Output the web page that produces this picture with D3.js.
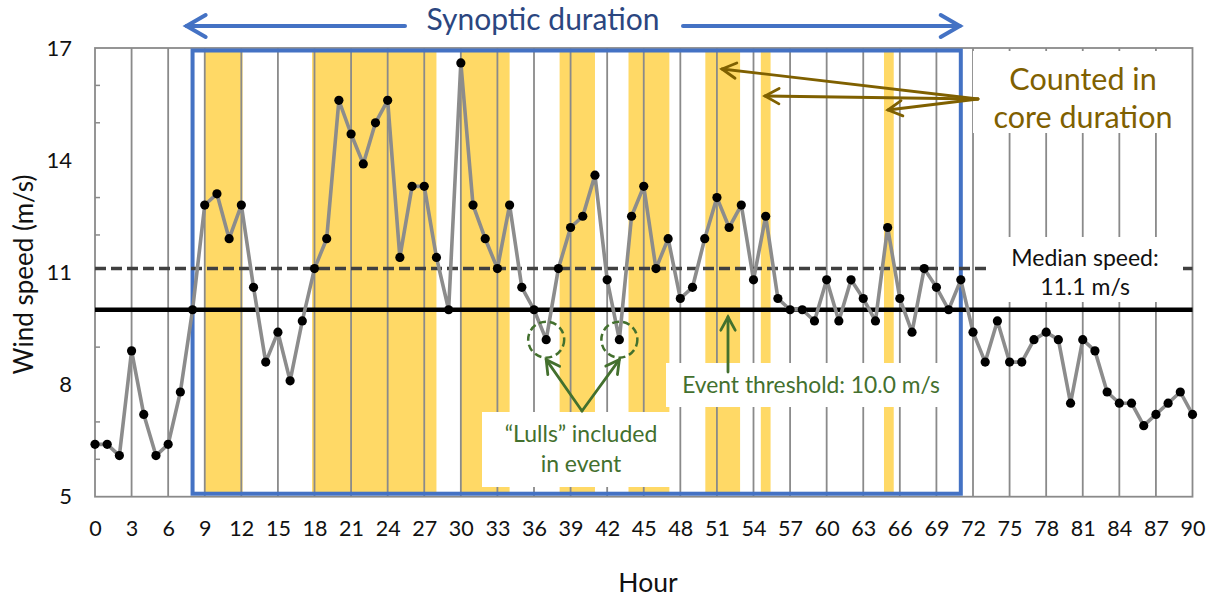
<!DOCTYPE html>
<html><head><meta charset="utf-8">
<script src="https://cdn.jsdelivr.net/npm/d3@7"></script>
<style>
body{margin:0;background:#fff}
svg{display:block}
text{font-family:Lato,"Open Sans",sans-serif}
</style>
</head><body>
<svg id="c" width="1216" height="598"></svg>
<script>
// ---------- data ----------
const speeds = [
  6.4, 6.4, 6.1, 8.9, 7.2, 6.1, 6.4, 7.8, 10.0, 12.8,
  13.1, 11.9, 12.8, 10.6, 8.6, 9.4, 8.1, 9.7, 11.1, 11.9,
  15.6, 14.7, 13.9, 15.0, 15.6, 11.4, 13.3, 13.3, 11.4, 10.0,
  16.6, 12.8, 11.9, 11.1, 12.8, 10.6, 10.0, 9.2, 11.1, 12.2,
  12.5, 13.6, 10.8, 9.2, 12.5, 13.3, 11.1, 11.9, 10.3, 10.6,
  11.9, 13.0, 12.2, 12.8, 10.8, 12.5, 10.3, 10.0, 10.0, 9.7,
  10.8, 9.7, 10.8, 10.3, 9.7, 12.2, 10.3, 9.4, 11.1, 10.6,
  10.0, 10.8, 9.4, 8.6, 9.7, 8.6, 8.6, 9.2, 9.4, 9.2,
  7.5, 9.2, 8.9, 7.8, 7.5, 7.5, 6.9, 7.2, 7.5, 7.8,
  7.2
];
const coreBandStart = [8.95, 17.8, 30.0, 38.1, 43.75, 50.05, 54.6, 64.7];
const coreBandEnd   = [12.1, 28.0, 34.0, 41.0, 47.1, 52.9, 55.4, 65.5];
const synopticStart = 8, synopticEnd = 71;
const eventThreshold = 10.0;
const medianSpeed = 11.1;
const lullHours = [37, 43];
const xTickValues = [0,3,6,9,12,15,18,21,24,27,30,33,36,39,42,45,48,51,54,57,60,63,66,69,72,75,78,81,84,87,90];
const yTickValues = [5, 8, 11, 14, 17];
const yMinorTicks = [6, 7, 9, 10, 12, 13, 15, 16];

// ---------- setup ----------
const svg = d3.select("#c");
const x = d3.scaleLinear().domain([0, 90]).range([95, 1192.5]);
const y = d3.scaleLinear().domain([5, 17]).range([496.7, 48]);
const GRID = "#8a8a8a", BLUE = "#4472C4", YEL = "#FFD966",
      GREEN = "#43702E", BROWN = "#7F6000", NAVY = "#2B4680";

svg.append("rect").attr("width",1216).attr("height",598).attr("fill","#fff");

// core-duration bands
svg.append("g").selectAll("rect").data(coreBandStart).join("rect")
  .attr("x", (d) => x(d))
  .attr("width", (d,i) => x(coreBandEnd[i]) - x(d))
  .attr("y", y(17) + 2).attr("height", y(5) - y(17) - 4)
  .attr("fill", YEL);

// vertical gridlines
svg.append("g").selectAll("line").data(xTickValues.filter(d => d > 0 && d < 90)).join("line")
  .attr("x1", d => x(d)).attr("x2", d => x(d))
  .attr("y1", y(17)).attr("y2", y(5))
  .attr("stroke", GRID).attr("stroke-width", 1.8);

// minor y ticks
svg.append("g").selectAll("line").data(yMinorTicks).join("line")
  .attr("x1", x(0)).attr("x2", x(0) + 5)
  .attr("y1", d => y(d)).attr("y2", d => y(d))
  .attr("stroke", GRID).attr("stroke-width", 1.5);

// plot border
svg.append("rect").attr("x", x(0)).attr("y", y(17))
  .attr("width", x(90) - x(0)).attr("height", y(5) - y(17))
  .attr("fill", "none").attr("stroke", GRID).attr("stroke-width", 1.8);

// synoptic box
svg.append("rect").attr("x", x(synopticStart)).attr("y", y(17) + 2.5)
  .attr("width", x(synopticEnd) - x(synopticStart)).attr("height", y(5) - y(17) - 5.5)
  .attr("fill", "none").attr("stroke", BLUE).attr("stroke-width", 4);

// threshold lines
svg.append("line").attr("x1", x(0)).attr("x2", x(90))
  .attr("y1", y(eventThreshold)).attr("y2", y(eventThreshold))
  .attr("stroke", "#000").attr("stroke-width", 4.5);
svg.append("line").attr("x1", x(0)).attr("x2", x(90))
  .attr("y1", y(medianSpeed)).attr("y2", y(medianSpeed))
  .attr("stroke", "#404040").attr("stroke-width", 3.5).attr("stroke-dasharray", "11 5");

// series
svg.append("path").datum(speeds)
  .attr("d", d3.line().x((d,i) => x(i)).y(d => y(d)))
  .attr("fill", "none").attr("stroke", "#8c8c8c").attr("stroke-width", 3.6)
  .attr("stroke-linejoin", "round");
svg.append("g").selectAll("circle").data(speeds).join("circle")
  .attr("cx", (d,i) => x(i)).attr("cy", d => y(d)).attr("r", 4.6).attr("fill", "#000");

// axes
const xAxis = svg.append("g").attr("transform", `translate(0,${y(5)})`)
  .call(d3.axisBottom(x).tickValues(xTickValues).tickSize(0).tickPadding(24).tickFormat(d3.format("d")));
xAxis.select(".domain").remove();
xAxis.selectAll("text").attr("font-size", 21.5).attr("fill", "#111").style("font-family", "Lato");

const yAxis = svg.append("g").attr("transform", `translate(${x(0)},0)`)
  .call(d3.axisLeft(y).tickValues(yTickValues).tickSize(0).tickPadding(23).tickFormat(d3.format("d")));
yAxis.select(".domain").remove();
yAxis.selectAll("text").attr("font-size", 22).attr("fill", "#111").style("font-family", "Lato");

svg.append("text").attr("transform", "translate(33,274.5) rotate(-90)")
  .attr("text-anchor", "middle").attr("font-size", 26).attr("fill", "#111").text("Wind speed (m/s)");
svg.append("text").attr("x", 648).attr("y", 592)
  .attr("text-anchor", "middle").attr("font-size", 26.5).attr("fill", "#111").text("Hour");

// ---------- annotations ----------
function chevron(g, x1, y1, x2, y2, color, w, len, half) {
  const a = Math.atan2(y2 - y1, x2 - x1);
  const p1 = [x2 - len * Math.cos(a - half), y2 - len * Math.sin(a - half)];
  const p2 = [x2 - len * Math.cos(a + half), y2 - len * Math.sin(a + half)];
  g.append("path").attr("d", `M${p1[0]},${p1[1]}L${x2},${y2}L${p2[0]},${p2[1]}`)
    .attr("fill", "none").attr("stroke", color).attr("stroke-width", w)
    .attr("stroke-linejoin", "miter").attr("stroke-linecap", "round");
}
function arrow(g, x1, y1, x2, y2, color, w, len, half) {
  g.append("line").attr("x1", x1).attr("y1", y1).attr("x2", x2).attr("y2", y2)
    .attr("stroke", color).attr("stroke-width", w).attr("stroke-linecap", "round");
  chevron(g, x1, y1, x2, y2, color, w, len, half);
}
const ann = svg.append("g");

// Synoptic duration arrow
const sx0 = x(synopticStart) - 6, sx1 = x(synopticEnd) - 1;
arrow(ann, 405, 26, sx0, 26, BLUE, 4, 22, 0.52);
arrow(ann, 683, 26, sx1, 26, BLUE, 4, 22, 0.52);
ann.append("text").attr("x", 543).attr("y", 30).attr("text-anchor", "middle")
  .attr("font-size", 30).attr("fill", NAVY).text("Synoptic duration");

// Counted in core duration
ann.append("rect").attr("x", 973).attr("y", 51).attr("width", 217).attr("height", 82).attr("fill", "#fff");
ann.append("text").attr("x", 1083).attr("y", 90).attr("text-anchor", "middle")
  .attr("font-size", 30.5).attr("fill", BROWN).text("Counted in");
ann.append("text").attr("x", 1083).attr("y", 128).attr("text-anchor", "middle")
  .attr("font-size", 30.5).attr("fill", BROWN).text("core duration");
arrow(ann, 978, 99, 722, 69, BROWN, 2.8, 16, 0.5);
arrow(ann, 978, 99, 765, 96, BROWN, 2.8, 16, 0.5);
arrow(ann, 978, 99, 888, 110, BROWN, 2.8, 16, 0.5);

// Median speed label
ann.append("rect").attr("x", 988).attr("y", 237).attr("width", 192).attr("height", 65).attr("fill", "#fff");
ann.append("text").attr("x", 1085).attr("y", 266).attr("text-anchor", "middle")
  .attr("font-size", 23).attr("fill", "#111").text("Median speed:");
ann.append("text").attr("x", 1085).attr("y", 295).attr("text-anchor", "middle")
  .attr("font-size", 23).attr("fill", "#111").text("11.1 m/s");

// Event threshold label
ann.append("rect").attr("x", 666).attr("y", 363).attr("width", 280).attr("height", 44).attr("fill", "#fff");
ann.append("text").attr("x", 811).attr("y", 392.5).attr("text-anchor", "middle")
  .attr("font-size", 22.8).attr("fill", GREEN).text("Event threshold: 10.0 m/s");
arrow(ann, 728, 372, 728, 317, GREEN, 2.8, 15, 0.5);

// Lulls
ann.append("rect").attr("x", 482).attr("y", 412).attr("width", 197).attr("height", 75).attr("fill", "#fff");
ann.append("text").attr("x", 581).attr("y", 441.5).attr("text-anchor", "middle")
  .attr("font-size", 23).attr("fill", GREEN).text("\u201CLulls\u201D included");
ann.append("text").attr("x", 581).attr("y", 471.5).attr("text-anchor", "middle")
  .attr("font-size", 23).attr("fill", GREEN).text("in event");
lullHours.forEach(h => {
  const cx = x(h), cy = y(speeds[h]);
  ann.append("circle").attr("cx", cx).attr("cy", cy).attr("r", 18)
    .attr("fill", "none").attr("stroke", GREEN).attr("stroke-width", 2.5).attr("stroke-dasharray", "7 4");
  arrow(ann, 582, 411, cx, cy + 20, GREEN, 2.8, 15, 0.5);
});
</script>
</body></html>
